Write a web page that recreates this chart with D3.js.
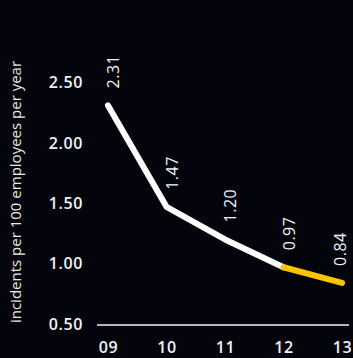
<!DOCTYPE html>
<html><head><meta charset="utf-8">
<script src="https://cdn.jsdelivr.net/npm/d3@7"></script>
<style>html,body{margin:0;padding:0;background:#04040c;}</style>
</head><body>
<script>
const years = ["09","10","11","12","13"];
const values = [2.31,1.47,1.20,0.97,0.84];
const valueLabels = ["2.31","1.47","1.20","0.97","0.84"];
const yTicks = [0.5,1.0,1.5,2.0,2.5];
const highlightFrom = 3; // index where yellow segment starts

const W=353,H=358;
const svg=d3.select("body").append("svg").attr("width",W).attr("height",H).style("background","#04040c");
const x=d3.scalePoint().domain(years).range([108,342]);
const y=d3.scaleLinear().domain([0.5,2.5]).range([324,82.5]);
const font="'Open Sans', sans-serif";
const txt="#f2f2f2";

// y tick labels
const yAxis=d3.axisLeft(y).tickValues(yTicks).tickFormat(d3.format(".2f")).tickSize(0).tickPadding(0);
const ga=svg.append("g").attr("transform","translate(83,0)").call(yAxis);
ga.select(".domain").remove();
ga.selectAll("text").attr("fill",txt).style("font-family",font).style("font-size","16px").style("font-weight","600").style("letter-spacing","0.6px");

// x axis
const xAxis=d3.axisBottom(x).tickSize(0).tickPadding(0);
const gx=svg.append("g").attr("transform","translate(0,325)").call(xAxis);
gx.select(".domain").remove();
gx.selectAll("text").attr("fill",txt).attr("dy",null).attr("y",28).style("font-family",font).style("font-size","16px").style("font-weight","600").style("letter-spacing","0.6px");
svg.append("line").attr("x1",97).attr("x2",349).attr("y1",325).attr("y2",325).attr("stroke",txt).attr("stroke-width",1.5);

// y axis title
svg.append("text").attr("transform","translate(21,192) rotate(-90)").attr("text-anchor","middle")
 .attr("fill","#e8e8e8").style("font-family",font).style("font-size","15px").text("incidents per 100 employees per year");

const data=years.map((d,i)=>({k:d,v:values[i],l:valueLabels[i]}));
const line=d3.line().x(d=>x(d.k)).y(d=>y(d.v));
svg.append("path").attr("d",line(data.slice(0,highlightFrom+1))).attr("fill","none").attr("stroke","#ffffff").attr("stroke-width",6).attr("stroke-linecap","round").attr("stroke-linejoin","round");
svg.append("path").attr("d",line(data.slice(highlightFrom))).attr("fill","none").attr("stroke","#f7c600").attr("stroke-width",6).attr("stroke-linecap","round").attr("stroke-linejoin","round");

// value labels
svg.selectAll(".vl").data(data).enter().append("text")
 .attr("transform",d=>`translate(${Math.min(x(d.k)+11,346)},${y(d.v)-17}) rotate(-90)`)
 .attr("text-anchor","start").attr("fill",txt).style("font-family",font).style("font-size","16px").style("font-weight","400").style("letter-spacing","0.5px")
 .text(d=>d.l);
</script>
</body></html>
